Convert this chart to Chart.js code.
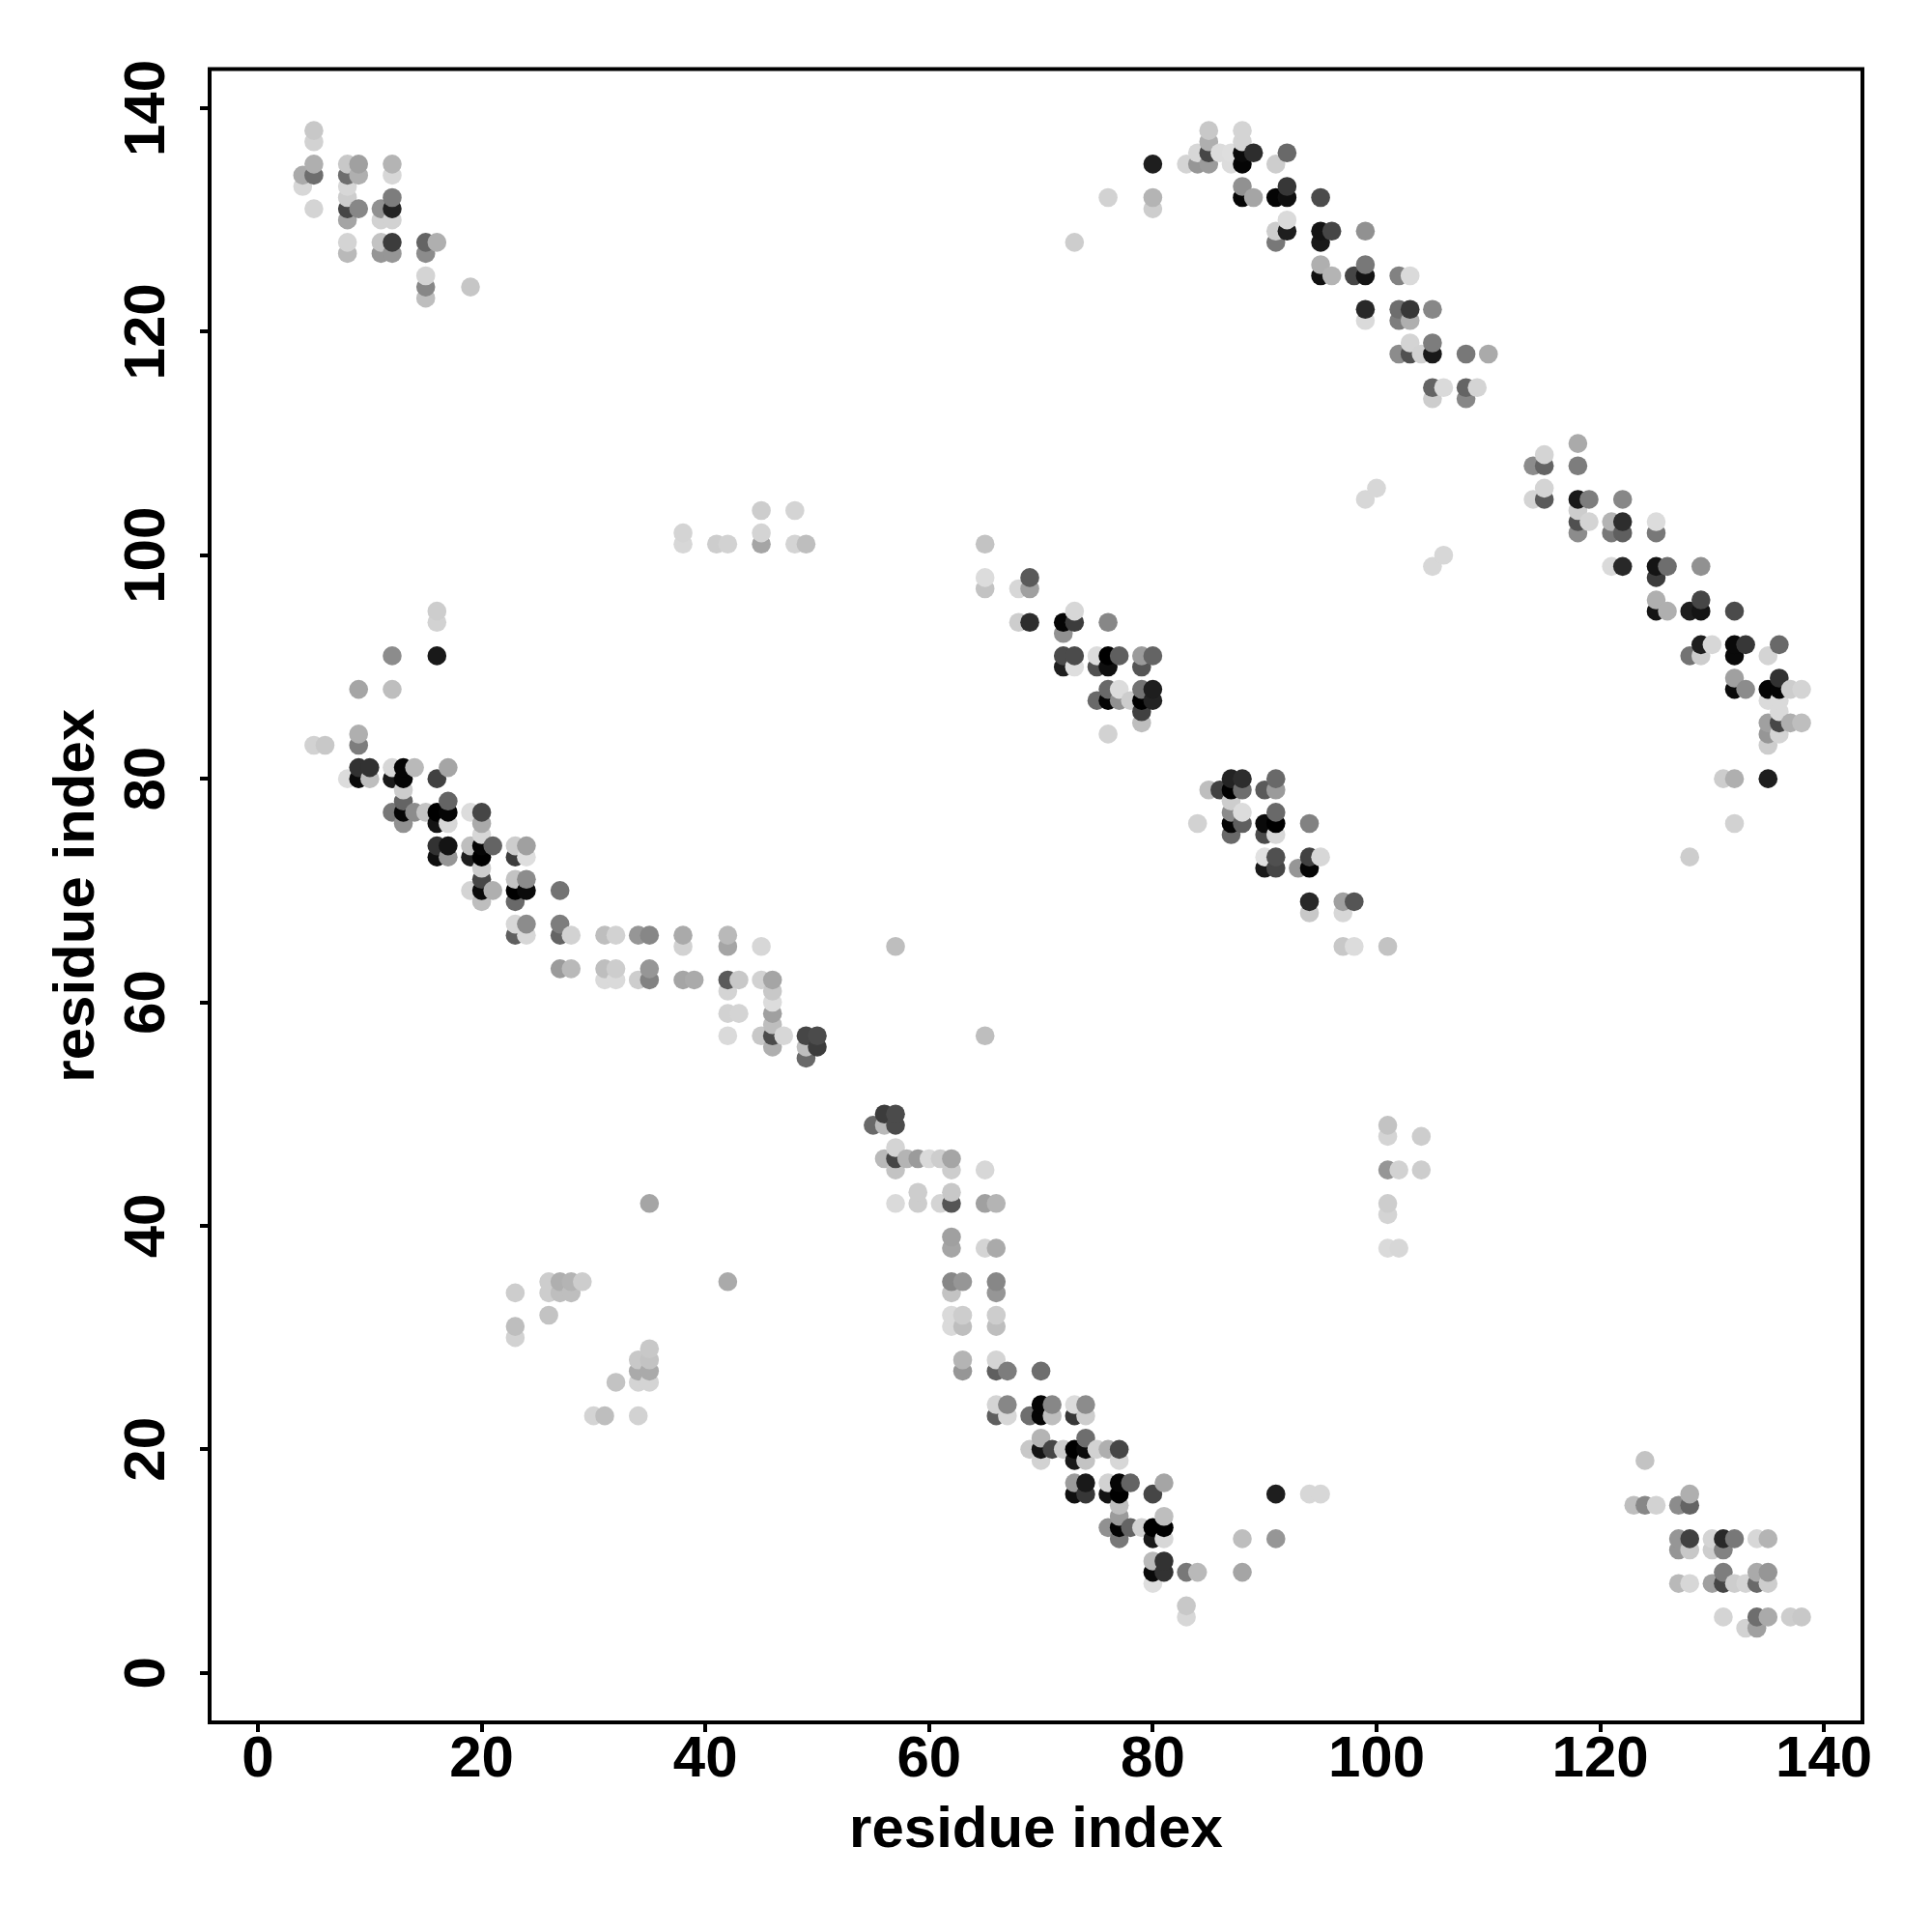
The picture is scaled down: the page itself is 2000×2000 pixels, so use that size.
<!DOCTYPE html>
<html>
<head>
<meta charset="utf-8">
<style>
  html, body { margin: 0; padding: 0; background: #fff; }
  canvas { display: block; }
</style>
<script src="https://cdn.jsdelivr.net/npm/chart.js@4/dist/chart.umd.min.js"></script>
</head>
<body>
<canvas id="contactMap" width="2000" height="2000"></canvas>
<script>
const tickValues = [0, 20, 40, 60, 80, 100, 120, 140];
const axisLabel = 'residue index';

// contact signal per residue pair, 0 = faint, 255 = strong
const topLeftX = [4,4,5,5,5,5,5,8,8,8,8,8,8,8,8,9,9,9,11,11,11,11,12,12,12,12,12,12,12,15,15,15,15,15,16,19];
const topLeftY = [134,133,138,137,135,134,131,135,134,133,132,131,130,128,127,135,134,131,131,130,128,127,135,134,132,131,130,128,127,128,127,125,124,123,128,124];
const topLeftS = [85,40,55,45,80,145,43,55,145,40,50,185,90,43,70,95,80,120,110,45,60,105,75,40,130,220,45,195,105,155,115,43,120,65,80,57];

const farStripX = [38,38,41,42,45,45,45,48,48,49];
const farStripY = [102,101,101,101,104,102,101,104,101,101];
const farStripS = [43,40,50,45,50,43,90,43,43,65];

const leftBandX = [16,16,12,16,9,12,9,9,5,6,
  9,10,12,13,14,17, 8,9,10,12,13,16, 13, 13,17,
  12,13,14,15,16,17,19,20, 13,16,17,20, 20,
  16,17,19,20,21,23,24, 16,17,19,20,23,24, 20, 20,23,24,
  19,20,21,23,24,27, 20,23, 23,24,27,
  23,24,27,28,31,32,34,35,38, 38, 27,28,31,32,35, 31,32,34,35,38,39];
const leftBandY = [95,94,91,91,88,88,84,83,83,83,
  81,81,81,81,81,81, 80,80,80,80,80,80, 79, 78,78,
  77,77,77,77,77,77,77,77, 76,76,76,76, 75,
  74,74,74,74,74,74,74, 73,73,73,73,73,73, 72, 71,71,71,
  70,70,70,70,70,70, 69,69, 67,67,67,
  66,66,66,66,66,66,66,66,66, 65, 63,63,63,63,63, 62,62,62,62,62,62];
const leftBandS = [50,45,115,230,90,65,80,130,45,55,
  205,205,40,250,70,90, 35,245,65,230,250,190, 50, 155,155,
  135,250,115,60,255,250,35,185, 110,235,40,85, 40,
  205,235,65,250,155,50,95, 240,105,225,255,195,33, 50, 185,60,115,
  43,245,80,255,245,140, 65,150, 40,115,130,
  160,40,155,45,65,45,105,120,85, 45, 100,70,65,50,105, 37,37,50,125,90,85];

const midBandX = [42, 42,45, 42,43,45,46, 42,46, 46, 42,43,46, 46, 42,45,46,47,49,50, 46,49,50, 49, 57, 65];
const midBandY = [66, 65,65, 62,62,62,62, 61,61, 60, 59,59,59, 58, 57,57,57,57,57,57, 56,56,56, 55, 65, 57];
const midBandS = [70, 90,40, 165,55,45,90, 43,55, 35, 45,43,95, 65, 37,55,180,40,185,180, 80,65,195, 150, 65,65];

const strandX = [56,57, 55,56,57, 57, 56,57,58,59,60,61,62, 57,62,65, 59,62, 57,59,61,62,65,66, 62, 62,65,66, 62,63,66, 62,66, 62,63,66, 62,63,66, 63,66, 63,66,67,70];
const strandY = [50,50, 49,49,49, 47, 46,46,46,46,46,46,46, 45,45,45, 43,43, 42,42,42,42,42,42, 39, 38,38,38, 35,35,35, 34,34, 32,32,32, 31,31,31, 28,28, 27,27,27,27];
const strandS = [195,180, 150,70,180, 43, 70,185,75,100,37,50,90, 60,50,40, 50,55, 37,50,43,170,95,75, 95, 90,43,85, 120,105,120, 60,105, 37,50,50, 37,65,65, 75,43, 105,160,130,145];

const lowerDiagX = [66,67,70,71,73,74, 66,67,69,70,71,73,74, 70,74, 69,70,71,72,73,74,75,76,77, 70,73,74,77, 73,74,76,77,78,81, 73,74,76,77,80, 77, 77,81, 76,77,78,79,80,81, 77,80,81,88, 80,81, 80,81,83,84,88, 80, 83, 83];
const lowerDiagY = [24,24,24,24,24,24, 23,23,23,23,23,23,23, 21,21, 20,20,20,20,20,20,20,20,20, 19,19,19,19, 17,17,17,17,17,17, 16,16,16,16,16, 15, 14,14, 13,13,13,13,13,13, 12,12,12,12, 10,10, 9,9,9,9,9, 8, 6, 5];
const lowerDiagS = [43,120,250,120,35,115, 160,40,145,250,65,200,50, 75,145, 55,235,185,50,255,245,45,80,185, 45,230,60,40, 100,230,45,250,155,90, 240,200,235,255,185, 65, 100,65, 110,250,155,45,255,255, 135,230,40,65, 70,205, 245,205,135,70,90, 33, 55, 40];

const centerBlockX = [65, 65,69, 65,68,69, 73, 68,69,72,73,76, 72, 72,73,75,76,77,79,80, 72,73,75,76,79, 76,77,79,80, 75,76,77,78,79,80, 79, 79, 76];
const centerBlockY = [101, 98,98, 97,97,97, 95, 94,94,94,94,94, 93, 91,91,91,91,91,91,91, 90,90,90,90,90, 88,88,88,88, 87,87,87,87,87,87, 86, 85, 84];
const centerBlockS = [60, 35,165, 60,40,95, 40, 50,210,250,195,120, 110, 180,180,35,255,160,100,155, 225,33,175,240,170, 150,35,140,225, 150,250,110,50,255,220, 190, 65, 45];

const secondBlockX = [87,88,91, 85,86,87,88,90,91, 87, 87,88,91, 84,87,88,90,91,94, 87,90,91, 90,91,94,95, 90,91,93,94, 94,97,98, 94,97, 97,98,101];
const secondBlockY = [80,80,80, 79,79,79,79,79,79, 78, 77,77,77, 76,76,76,76,76,76, 75,75,75, 73,73,73,73, 72,72,72,72, 69,69,69, 68,68, 65,65,65];
const secondBlockS = [220,210,150, 65,190,255,145,165,100, 50, 115,35,150, 45,250,160,245,255,125, 150,180,40, 30,175,190,40, 230,185,105,250, 215,95,170, 55,40, 55,35,60];

const topRightX = [80,80,80,73,76, 85,88, 85,88, 84,85,86,87,88,89,92, 83,84,85,87,88,91, 88,92, 88,89,91,92,95, 92, 91,92,95,96,99, 91,95, 95,99, 95,96,98,99,102,103, 99,102,103,105, 99,102,103, 103,105, 102,103,104,105,108,110, 105,106,108,109, 105,108];
const topRightY = [135,132,131,128,132, 138,138, 137,137, 136,136,136,136,136,136,136, 135,135,135,135,135,135, 133,133, 132,132,132,132,132, 130, 129,129,129,129,129, 128,128, 126,126, 125,125,125,125,125,125, 122,122,122,122, 121,121,121, 119,119, 118,118,118,118,118,118, 115,115,115,115, 114,114];
const topRightS = [225,75,50,50,45, 55,43, 80,43, 40,185,35,33,245,210,150, 43,105,100,35,250,50, 110,200, 250,90,250,240,180, 37, 50,225,235,185,110, 135,230, 80,135, 240,75,185,235,125,37, 215,145,200,120, 37,130,80, 43,130, 115,175,45,230,135,85, 155,37,155,43, 50,120];

const rightBandX = [118, 115, 114,115,118, 115, 114,115,118,119,122, 118, 118,119,121,122,125, 118,121,122,125, 121,122,125,126,129, 125, 125,129, 125,126,128,129,132, 129,130,132,133,136, 128,129,132,135, 132,136, 132,133,135,136,137,138, 135,136, 136, 135,136,137,138, 135,136, 135, 131,132,135, 132, 128];
const rightBandY = [110, 109, 108,108,108, 106, 105,105,105,105,105, 104, 103,103,103,103,103, 102,102,102,102, 99,99,99,99,99, 98, 96,96, 95,95,95,95,95, 92,92,92,92,92, 91,91,91,91, 89,89, 88,88,88,88,88,88, 87,87, 86, 85,85,85,85, 84,84, 83, 80,80,80, 76, 73];
const rightBandS = [85, 43, 115,155,130, 43, 43,165,230,130,120, 50, 175,43,75,210,35, 115,135,160,135, 37,215,235,145,110, 195, 80,185, 235,80,225,235,180, 225,40,245,200,150, 140,50,245,43, 95,205, 245,115,250,250,50,43, 37,37, 37, 95,185,80,65, 105,43, 50, 50,80,225, 45, 50];

const bottomRightX = [124, 128, 123,124,125,127,128, 127,128,130,131,132,134,135, 127,128,130,131, 131,134,135, 127,128,130,131,132,133,134,135, 131,134,135,137,138, 133,134];
const bottomRightY = [19, 16, 15,15,15,15,15, 12,12,12,12,12,12,12, 11,11,11,11, 9,9,9, 8,8,8,8,8,8,8,8, 5,5,5,5,5, 4,4];
const bottomRightS = [60, 80, 65,120,45,115,155, 105,190,43,215,135,40,75, 105,55,50,125, 130,85,105, 70,40,95,185,50,43,150,50, 43,145,85,50,55, 45,95];

const lowerLeftX = [30,31,34,32,34,35,34,35,34,35,35,23,23,23,26,26,26,27,27,28,28,29,35,42];
const lowerLeftY = [23,23,23,26,26,26,27,27,28,28,29,30,31,34,32,34,35,34,35,34,35,35,42,35];
const lowerLeftS = [43,65,45,60,43,43,85,85,55,60,55,45,65,50,60,50,50,65,80,65,75,50,90,85];

const scatteredX = [101,101,101,102,104,104,101,101,101,102,91,94,95,91,99,100,105,106];
const scatteredY = [49,48,45,45,48,45,42,41,38,38,16,16,16,12,105,106,99,100];
const scatteredS = [60,43,105,45,50,50,50,43,37,40,225,40,40,105,40,40,40,40];

const groups = [
  [topLeftX, topLeftY, topLeftS],
  [farStripX, farStripY, farStripS],
  [leftBandX, leftBandY, leftBandS],
  [midBandX, midBandY, midBandS],
  [strandX, strandY, strandS],
  [lowerDiagX, lowerDiagY, lowerDiagS],
  [centerBlockX, centerBlockY, centerBlockS],
  [secondBlockX, secondBlockY, secondBlockS],
  [topRightX, topRightY, topRightS],
  [rightBandX, rightBandY, rightBandS],
  [bottomRightX, bottomRightY, bottomRightS],
  [lowerLeftX, lowerLeftY, lowerLeftS],
  [scatteredX, scatteredY, scatteredS],
];

// drawn column by column, bottom to top, so later points sit on earlier ones
const points = [];
groups.forEach(([xs, ys, ss]) => {
  xs.forEach((x, i) => points.push({ x, y: ys[i], s: ss[i] }));
});
points.sort((a, b) => a.x - b.x || a.y - b.y);

const shade = s => {
  const g = 255 - s;
  return `rgb(${g},${g},${g})`;
};

const FONT = '"Liberation Sans", Arial, sans-serif';
const lineW = 4;

const framePlugin = {
  id: 'frame',
  afterDraw(chart) {
    const { ctx, chartArea: a } = chart;
    ctx.save();
    ctx.strokeStyle = '#000';
    ctx.lineWidth = lineW;
    ctx.strokeRect(a.left, a.top, a.right - a.left, a.bottom - a.top);
    ctx.restore();
  }
};

const keepTicks = scale => {
  scale.ticks = tickValues.map(v => ({ value: v }));
};

new Chart(document.getElementById('contactMap'), {
  type: 'scatter',
  data: {
    datasets: [{
      data: points,
      pointRadius: 9.8,
      pointHoverRadius: 9.8,
      pointBorderWidth: 0,
      pointBackgroundColor: points.map(p => shade(p.s)),
    }]
  },
  plugins: [framePlugin],
  options: {
    responsive: false,
    devicePixelRatio: 1,
    animation: false,
    layout: { padding: { left: 0, top: 71.5, right: 72, bottom: 0 } },
    plugins: { legend: { display: false }, tooltip: { enabled: false } },
    scales: {
      x: {
        type: 'linear',
        min: -4.32,
        max: 143.44,
        afterBuildTicks: keepTicks,
        afterFit: s => { s.height = 217; },
        border: { display: false },
        grid: { drawOnChartArea: false, drawTicks: true, tickLength: 10, color: '#000', lineWidth: lineW },
        ticks: {
          color: '#000',
          padding: -7,
          maxRotation: 0,
          autoSkip: false,
          font: { family: FONT, size: 60, weight: 'bold' },
          callback: v => String(v),
        },
        title: {
          display: true,
          text: axisLabel,
          color: '#000',
          font: { family: FONT, size: 60, weight: 'bold' },
          padding: { top: 0, bottom: 69 },
        },
      },
      y: {
        type: 'linear',
        min: -4.43,
        max: 143.5,
        afterBuildTicks: keepTicks,
        afterFit: s => { s.width = 217; },
        border: { display: false },
        grid: { drawOnChartArea: false, drawTicks: true, tickLength: 10, color: '#000', lineWidth: lineW },
        ticks: {
          color: '#000',
          padding: 3,
          minRotation: 90,
          maxRotation: 90,
          crossAlign: 'center',
          autoSkip: false,
          font: { family: FONT, size: 60, weight: 'bold' },
          callback: v => String(v),
        },
        title: {
          display: true,
          text: axisLabel,
          color: '#000',
          font: { family: FONT, size: 60, weight: 'bold' },
          padding: { top: 44, bottom: 0 },
        },
      },
    }
  }
});
</script>
</body>
</html>
